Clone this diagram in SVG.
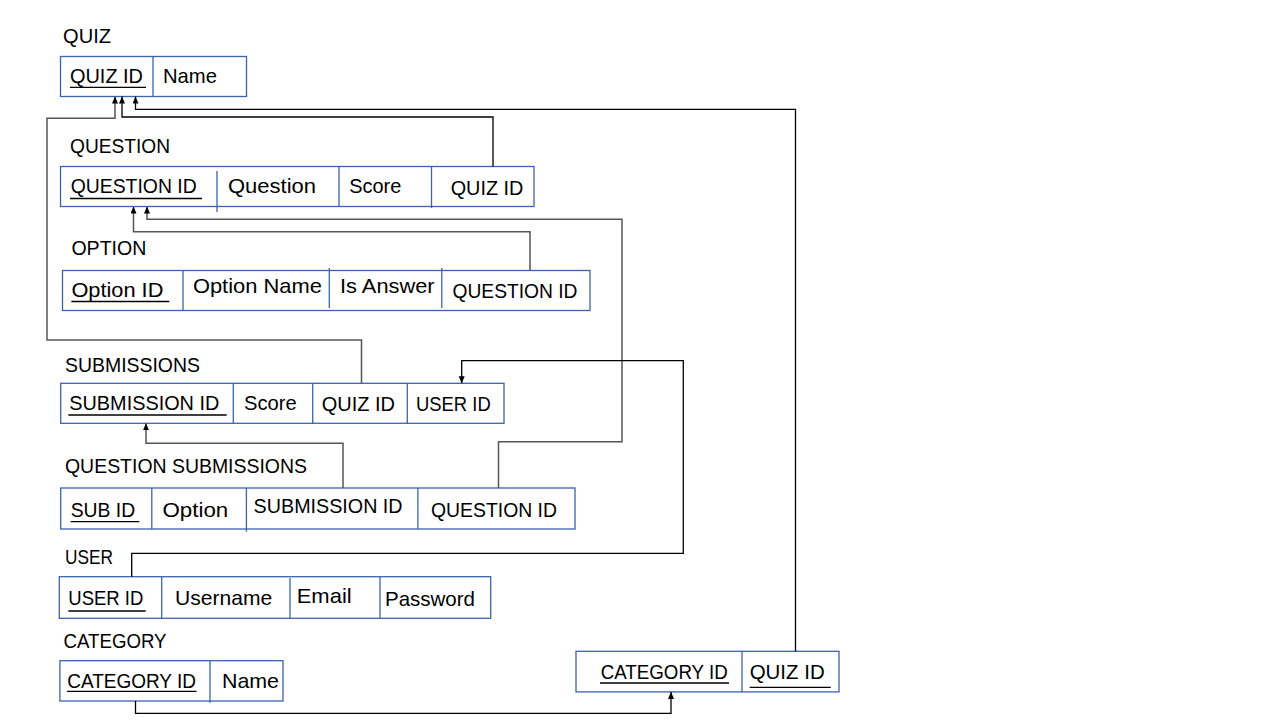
<svg xmlns="http://www.w3.org/2000/svg" width="1280" height="720" viewBox="0 0 1280 720">
<style>
text{font-family:"Liberation Sans",Arial,sans-serif;font-size:21px;fill:#000}
.box{fill:none;stroke:#3B63B0;stroke-width:1.3}
.div{stroke:#3B63B0;stroke-width:1.3}
.ul{stroke:#000;stroke-width:1.3}
.c{fill:none;stroke:#000;stroke-width:1.3}
.g{fill:none;stroke:#555;stroke-width:1.5}
</style>
<defs>
<marker id="ah" markerUnits="userSpaceOnUse" markerWidth="7" markerHeight="7" refX="7" refY="3" orient="auto">
<path d="M0,0 L7,3 L0,6 z" fill="#000"/>
</marker>
</defs>
<rect width="1280" height="720" fill="#fff"/>

<g id="quiz">
<text x="63" y="43" textLength="48" lengthAdjust="spacingAndGlyphs">QUIZ</text>
<rect class="box" x="60.5" y="56.5" width="186" height="40"/>
<line class="div" x1="153" y1="56.5" x2="153" y2="96.5"/>
<text x="70" y="83.3" textLength="73" lengthAdjust="spacingAndGlyphs">QUIZ ID</text>
<line class="ul" x1="70" y1="87.3" x2="146" y2="87.3"/>
<text x="163" y="83.3" textLength="54" lengthAdjust="spacingAndGlyphs">Name</text>
</g>

<g id="question">
<text x="70" y="153" textLength="100" lengthAdjust="spacingAndGlyphs">QUESTION</text>
<rect class="box" x="60.5" y="166.5" width="473.5" height="40"/>
<line class="div" x1="217" y1="171" x2="217" y2="212"/>
<line class="div" x1="339" y1="166.5" x2="339" y2="206.5"/>
<line class="div" x1="431.5" y1="166.5" x2="431.5" y2="208"/>
<text x="70.7" y="193.3" textLength="126" lengthAdjust="spacingAndGlyphs">QUESTION ID</text>
<line class="ul" x1="70" y1="198.5" x2="202" y2="198.5"/>
<text x="228" y="193.3" textLength="88" lengthAdjust="spacingAndGlyphs">Question</text>
<text x="349.3" y="193.3" textLength="52" lengthAdjust="spacingAndGlyphs">Score</text>
<text x="450.7" y="195" textLength="72.7" lengthAdjust="spacingAndGlyphs">QUIZ ID</text>
</g>

<g id="option">
<text x="71.4" y="255" textLength="75" lengthAdjust="spacingAndGlyphs">OPTION</text>
<rect class="box" x="62.5" y="270.5" width="527.5" height="40"/>
<line class="div" x1="183" y1="270.5" x2="183" y2="310.5"/>
<line class="div" x1="329.3" y1="268" x2="329.3" y2="308"/>
<line class="div" x1="441.8" y1="268" x2="441.8" y2="308"/>
<text x="71.4" y="296.7" textLength="92" lengthAdjust="spacingAndGlyphs">Option ID</text>
<line class="ul" x1="71.4" y1="301.5" x2="169.3" y2="301.5"/>
<text x="192.9" y="293.3" textLength="129" lengthAdjust="spacingAndGlyphs">Option Name</text>
<text x="340" y="293.3" textLength="94.6" lengthAdjust="spacingAndGlyphs">Is Answer</text>
<text x="452.5" y="297.7" textLength="125" lengthAdjust="spacingAndGlyphs">QUESTION ID</text>
</g>

<g id="submissions">
<text x="65" y="371.7" textLength="135" lengthAdjust="spacingAndGlyphs">SUBMISSIONS</text>
<rect class="box" x="60.7" y="383.3" width="443.3" height="40"/>
<line class="div" x1="233.3" y1="383.3" x2="233.3" y2="423.3"/>
<line class="div" x1="312.7" y1="383.3" x2="312.7" y2="423.3"/>
<line class="div" x1="407.3" y1="383.3" x2="407.3" y2="423.3"/>
<text x="69.3" y="410" textLength="150" lengthAdjust="spacingAndGlyphs">SUBMISSION ID</text>
<line class="ul" x1="68.3" y1="415" x2="226.7" y2="415"/>
<text x="244" y="410" textLength="52.7" lengthAdjust="spacingAndGlyphs">Score</text>
<text x="321.7" y="411" textLength="73.3" lengthAdjust="spacingAndGlyphs">QUIZ ID</text>
<text x="416" y="411" textLength="74.7" lengthAdjust="spacingAndGlyphs">USER ID</text>
</g>

<g id="question-submissions">
<text x="65" y="472.5" textLength="242" lengthAdjust="spacingAndGlyphs">QUESTION SUBMISSIONS</text>
<rect class="box" x="60.7" y="488" width="514.3" height="41"/>
<line class="div" x1="151.8" y1="488" x2="151.8" y2="529"/>
<line class="div" x1="246.4" y1="488" x2="246.4" y2="531.7"/>
<line class="div" x1="417.9" y1="488" x2="417.9" y2="529"/>
<text x="70.7" y="516.5" textLength="64.5" lengthAdjust="spacingAndGlyphs">SUB ID</text>
<line class="ul" x1="70.7" y1="521.7" x2="139.3" y2="521.7"/>
<text x="162.5" y="516.5" textLength="65.7" lengthAdjust="spacingAndGlyphs">Option</text>
<text x="253.6" y="512.7" textLength="149" lengthAdjust="spacingAndGlyphs">SUBMISSION ID</text>
<text x="431" y="516.5" textLength="126" lengthAdjust="spacingAndGlyphs">QUESTION ID</text>
</g>

<g id="user">
<text x="65" y="564" textLength="48" lengthAdjust="spacingAndGlyphs">USER</text>
<rect class="box" x="59.3" y="576.7" width="431.4" height="41.6"/>
<line class="div" x1="161.7" y1="576.7" x2="161.7" y2="618.3"/>
<line class="div" x1="290" y1="578" x2="290" y2="618.3"/>
<line class="div" x1="380" y1="576.7" x2="380" y2="618.3"/>
<text x="68.3" y="605" textLength="75" lengthAdjust="spacingAndGlyphs">USER ID</text>
<line class="ul" x1="68.3" y1="611" x2="145.7" y2="611"/>
<text x="175" y="605" textLength="97.3" lengthAdjust="spacingAndGlyphs">Username</text>
<text x="296.7" y="603.3" textLength="55" lengthAdjust="spacingAndGlyphs">Email</text>
<text x="385" y="605.7" textLength="90" lengthAdjust="spacingAndGlyphs">Password</text>
</g>

<g id="category">
<text x="63.5" y="648.3" textLength="103" lengthAdjust="spacingAndGlyphs">CATEGORY</text>
<rect class="box" x="59.9" y="660.7" width="223.1" height="40.3"/>
<line class="div" x1="210" y1="660.7" x2="210" y2="702.7"/>
<text x="67.2" y="688.3" textLength="128.7" lengthAdjust="spacingAndGlyphs">CATEGORY ID</text>
<line class="ul" x1="67" y1="691.3" x2="196.6" y2="691.3"/>
<text x="222" y="688.3" textLength="57" lengthAdjust="spacingAndGlyphs">Name</text>
</g>

<g id="category-quiz">
<rect class="box" x="576" y="651.3" width="263" height="40.6"/>
<line class="div" x1="742" y1="651.3" x2="742" y2="691.9"/>
<text x="600.7" y="679.3" textLength="127" lengthAdjust="spacingAndGlyphs">CATEGORY ID</text>
<line class="ul" x1="600" y1="683" x2="729" y2="683"/>
<text x="749.7" y="679.3" textLength="75" lengthAdjust="spacingAndGlyphs">QUIZ ID</text>
<line class="ul" x1="749.7" y1="687.3" x2="830.8" y2="687.3"/>
</g>

<g id="connectors">
<path class="g" d="M361.5,383.3 V340 H47 V118.3 H115 V96.5" marker-end="url(#ah)"/>
<path class="c" d="M493,166.5 V117 H122 V96.5" marker-end="url(#ah)"/>
<path class="c" d="M795.5,651.3 V109.3 H135.5 V96.5" marker-end="url(#ah)"/>
<path class="g" d="M530,270.5 V231.7 H133.5 V206.5" marker-end="url(#ah)"/>
<path class="g" d="M498.5,488 V441.7 H622 V219.3 H147 V206.5" marker-end="url(#ah)"/>
<path class="g" d="M343,488 V443.3 H146 V423.3" marker-end="url(#ah)"/>
<path class="c" d="M131.7,576.7 V553.3 H683.3 V360.7 H461.7 V383.3" marker-end="url(#ah)"/>
<path class="c" d="M135.5,701 V713.3 H671 V691.9" marker-end="url(#ah)"/>
</g>
</svg>
